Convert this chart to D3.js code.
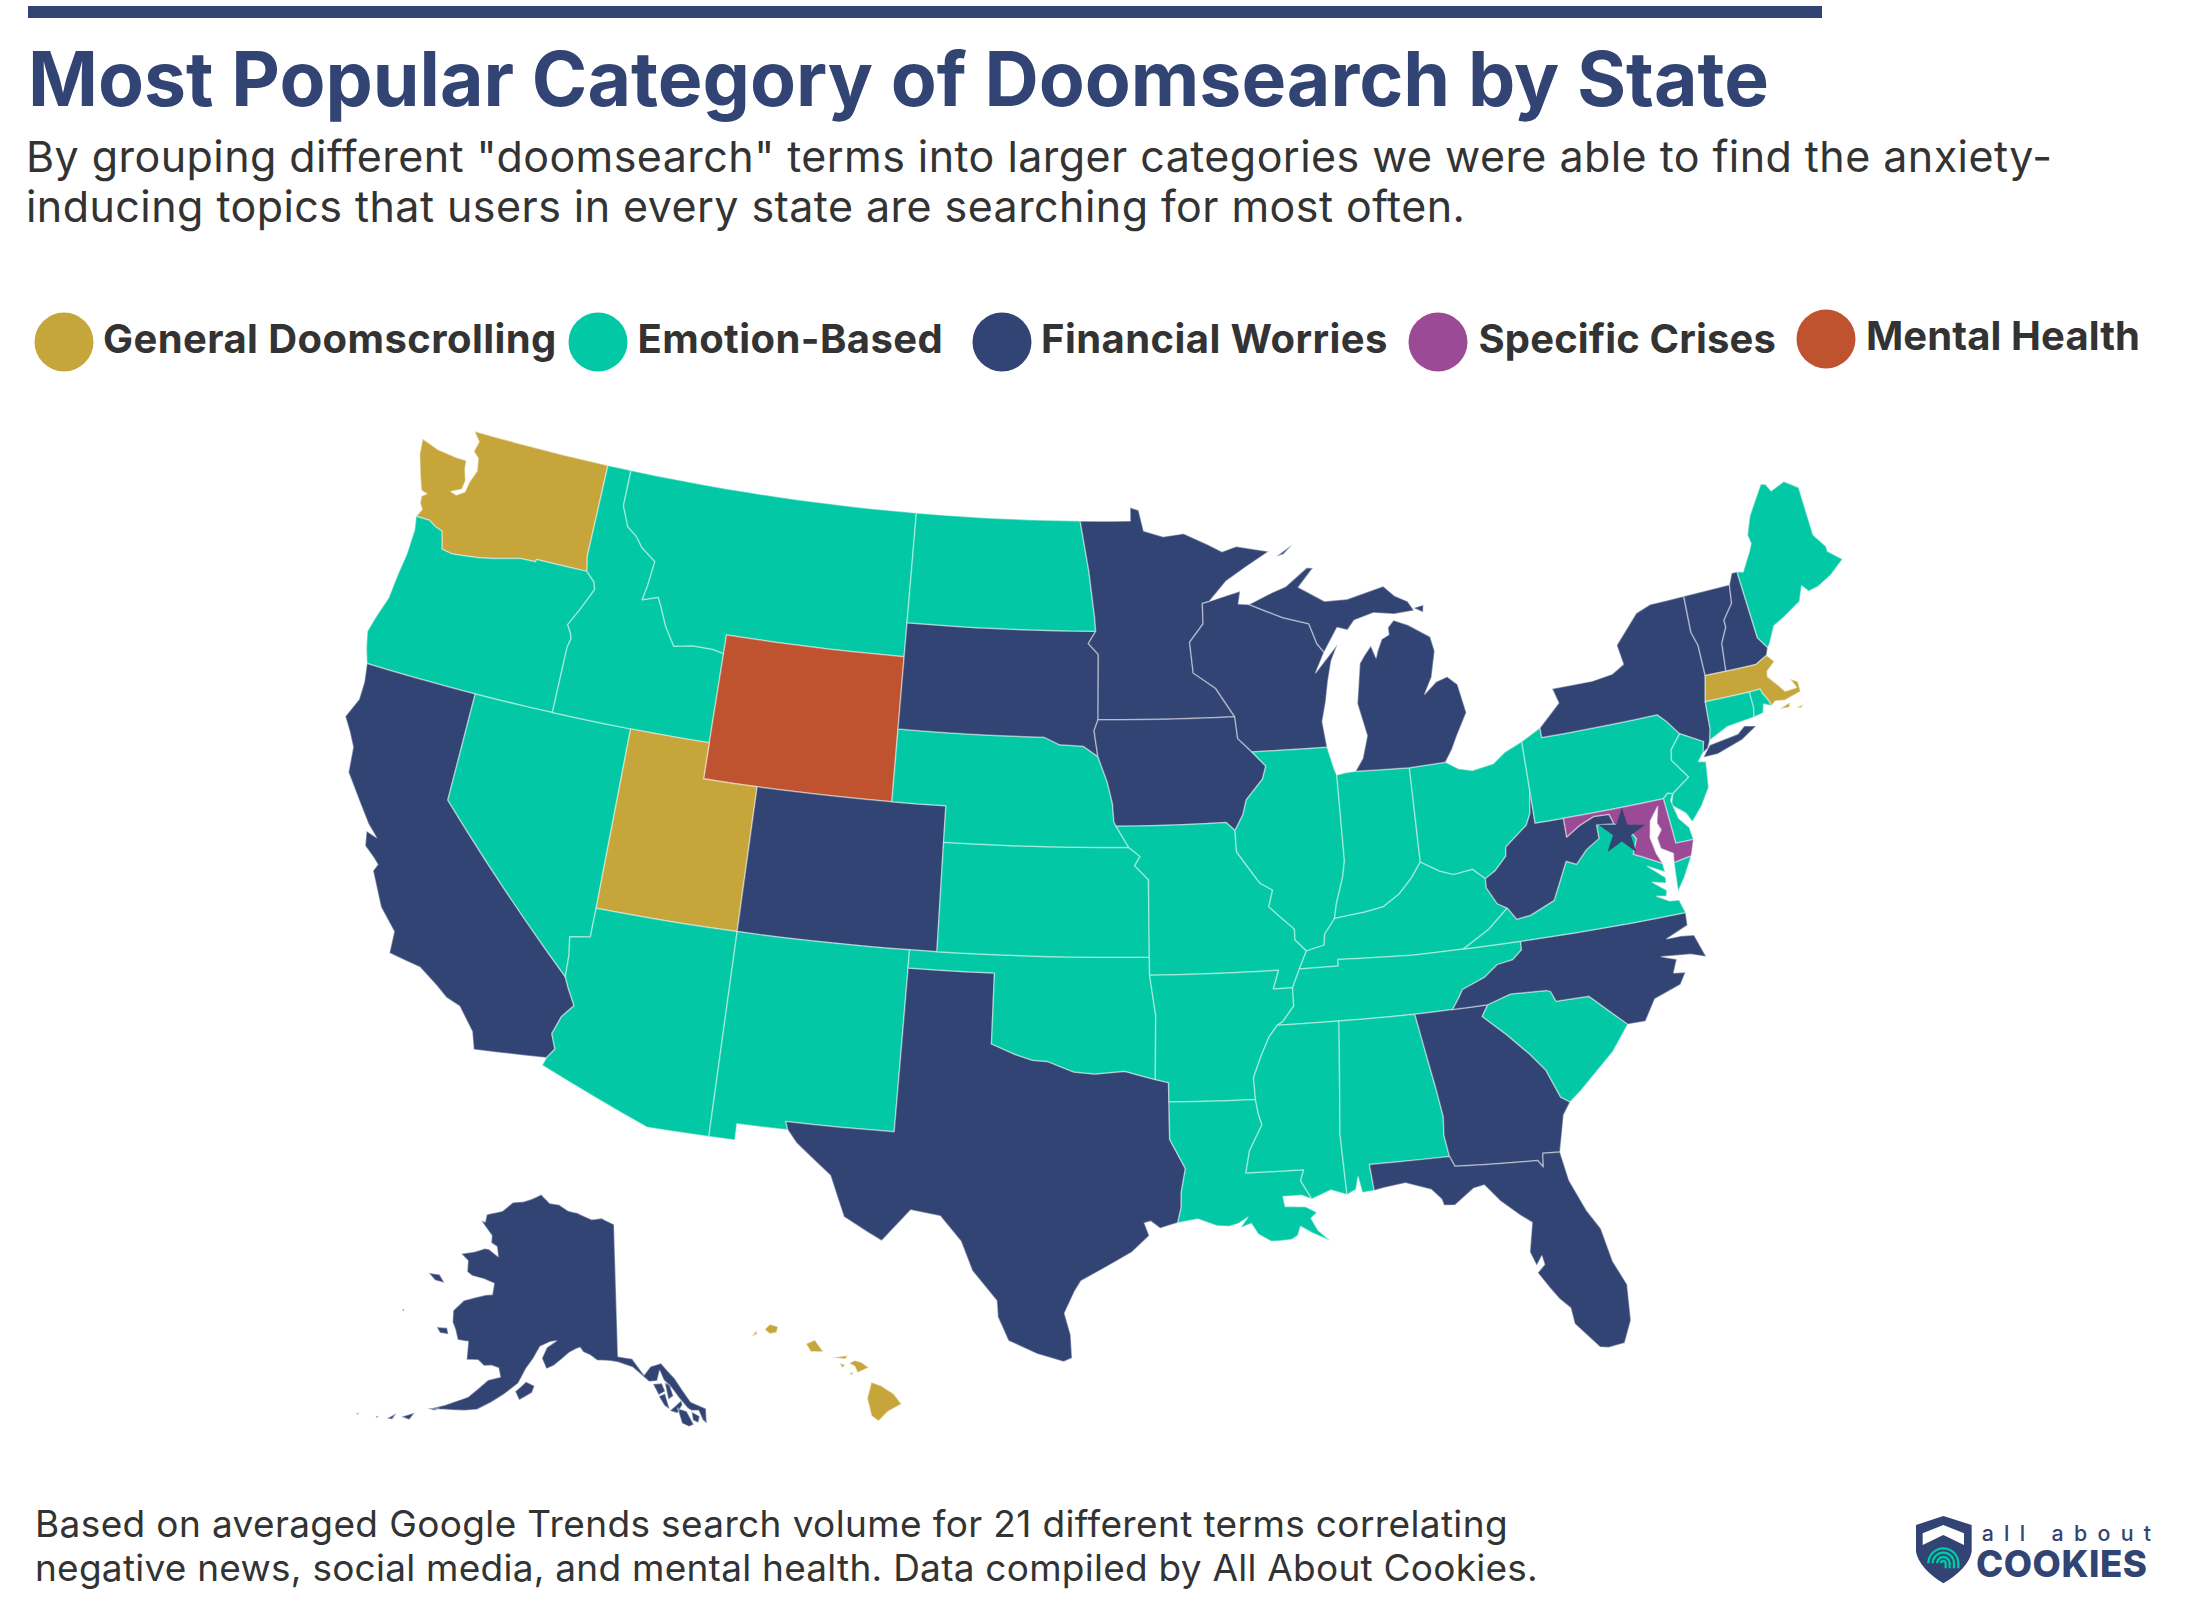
<!DOCTYPE html>
<html>
<head>
<meta charset="utf-8">
<script src="https://cdn.jsdelivr.net/npm/d3@7"></script>
<style>
  html, body { margin: 0; padding: 0; background: #fff; }
  svg { display: block; }
  text { font-family: Inter, "Noto Sans", sans-serif; }
</style>
</head>
<body>
<svg id="chart" width="2187" height="1609"></svg>
<script>
// legend + text
var categories = ["General Doomscrolling", "Emotion-Based", "Financial Worries", "Specific Crises", "Mental Health"];
var categoryColors = ["#c6a63b", "#02c8a5", "#324473", "#9b4b96", "#bf5330"];
var titleText = "Most Popular Category of Doomsearch by State";
var subtitleLines = ['By grouping different "doomsearch" terms into larger categories we were able to find the anxiety-',
  "inducing topics that users in every state are searching for most often."];
var footerLines = ["Based on averaged Google Trends search volume for 21 different terms correlating",
  "negative news, social media, and mental health. Data compiled by All About Cookies."];

// which category each state falls in
var generalStates = ["WA", "UT", "MA", "HI"];
var emotionStates = ["OR", "ID", "MT", "ND", "NV", "AZ", "NM", "NE", "KS", "OK", "MO", "AR", "LA", "MS", "AL", "TN", "KY",
  "IL", "IN", "OH", "PA", "NJ", "DE", "CT", "RI", "ME", "SC", "VA"];
var financialStates = ["CA", "SD", "MN", "WI", "MI", "IA", "CO", "TX", "GA", "FL", "NC", "WV", "NY", "VT", "NH", "AK"];
var crisesStates = ["MD"];
var mentalStates = ["WY"];
var dcLocation = [-77.5, 39.05]; // DC is drawn as a star, financial worries

// state borders as lon,lat lines, shared between neighbours
var arcs = {
  WA_N: "-117.03,49 -122.76,49 -122.45,48.75 -122.55,48.45 -122.3,48.3 -122.2,47.95 -122.38,47.6 -122.45,47.3 -122.75,47.15 -123,47.2 -122.6,47.35 -122.55,47.6 -122.7,47.9 -122.75,48.15 -123.15,48.15 -124,48.22 -124.72,48.38 -124.65,47.95 -124.35,47.35 -124.15,47 -123.9,46.95 -124.08,46.85 -124.05,46.65 -123.9,46.5 -124.05,46.27",
  WA_OR: "-124.05,46.27 -123.5,46.27 -123.2,46.15 -122.9,46.08 -122.8,45.85 -122.7,45.6 -122.25,45.55 -121.2,45.65 -120.65,45.73 -119.6,45.92 -119,45.93 -118.98,46 -116.92,46",
  WA_ID: "-117.03,49 -117.04,46.42 -116.92,46",
  OR_ID: "-116.92,46 -116.55,45.75 -116.47,45.55 -116.85,44.95 -117.2,44.45 -117.03,44.25 -116.95,44.1 -117.03,43.83 -117.03,42",
  OR_NV: "-117.03,42 -120,42",
  OR_CA: "-120,42 -124.21,42",
  OR_COAST: "-124.05,46.27 -123.95,45.9 -123.97,45.2 -124.07,44.6 -124.15,43.9 -124.4,43.3 -124.55,42.85 -124.4,42.4 -124.21,42",
  CA_COAST: "-124.21,42 -124.1,41.5 -124.1,41 -124.4,40.44 -124.1,40.1 -123.8,39.7 -123.7,39 -123,38.3 -122.5,37.8 -122.1,37.5 -122.5,37.6 -122.4,37.2 -122,36.95 -121.8,36.8 -121.9,36.6 -121.3,35.7 -120.65,35.15 -120.62,34.55 -119.5,34.38 -118.8,34 -118.4,33.75 -117.9,33.6 -117.3,33 -117.12,32.53",
  CA_MEX: "-117.12,32.53 -114.72,32.72",
  CA_AZ: "-114.72,32.72 -114.5,33 -114.7,33.4 -114.5,33.9 -114.15,34.27 -114.45,34.7 -114.63,35",
  CA_NV: "-114.63,35 -120,39 -120,42",
  NV_ID: "-117.03,42 -114.04,42",
  NV_UT: "-114.04,42 -114.04,37",
  NV_AZ: "-114.04,37 -114.05,36.2 -114.75,36.1 -114.65,35.6 -114.63,35",
  AZ_UT: "-114.04,37 -109.05,37",
  AZ_NM: "-109.05,37 -109.05,31.33",
  AZ_MEX: "-109.05,31.33 -111.07,31.33 -114.81,32.5 -114.72,32.72",
  NM_CO: "-109.05,37 -103,37",
  NM_OK: "-103,37 -103,36.5",
  NM_TX: "-103,36.5 -103.06,32 -106.62,32 -106.53,31.78",
  NM_MEX: "-106.53,31.78 -108.2,31.78 -108.2,31.33 -109.05,31.33",
  TX_MEX: "-106.53,31.78 -106.2,31.45 -105,30.65 -104.7,30.05 -104.45,29.55 -103.7,29.2 -103.2,28.98 -102.85,29.35 -102.35,29.88 -101.4,29.77 -100.7,29.1 -100.3,28.3 -99.5,27.5 -99.45,27.05 -99.1,26.4 -98.2,26.05 -97.4,25.85",
  TX_COAST: "-97.4,25.85 -97.15,25.96 -97.2,26.6 -97.4,27.2 -97.1,27.8 -96.9,28.1 -96.4,28.35 -95.9,28.6 -95.3,28.9 -94.75,29.35 -94.9,29.7 -94.7,29.75 -94.4,29.55 -93.84,29.69",
  TX_OK: "-103,36.5 -100,36.5 -100,34.56 -99.2,34.3 -98.6,34.15 -98.1,34.13 -97.2,33.85 -96.5,33.8 -95.5,33.88 -94.48,33.64",
  TX_AR: "-94.48,33.64 -94.04,33.55 -94.04,33.02",
  TX_LA: "-94.04,33.02 -94.04,31.99 -93.55,31.18 -93.7,30.55 -93.72,30.1 -93.84,29.69",
  LA_COAST: "-93.84,29.69 -93.2,29.78 -92.6,29.58 -92.2,29.55 -91.9,29.62 -91.6,29.78 -91.85,29.5 -91.5,29.6 -91.3,29.3 -90.9,29.08 -90.6,29.08 -90.25,29.1 -90.05,29.2 -89.95,29.45 -89.6,29.25 -89.05,29 -89.4,29.3 -89.6,29.65 -89.4,29.8 -89.75,29.98 -90.4,30.02 -90.45,30.3 -89.85,30.3 -89.53,30.18",
  LA_MS: "-89.53,30.18 -89.85,30.7 -89.73,31 -91.6,31 -91.45,31.6 -91,32.3 -91.1,32.6 -91.17,33",
  LA_AR: "-91.17,33 -94.04,33.02",
  MS_COAST: "-89.53,30.18 -88.9,30.39 -88.4,30.23",
  MS_AL: "-88.4,30.23 -88.47,31.9 -88.2,35",
  MS_TN: "-88.2,35 -90.3,35",
  MS_AR: "-90.3,35 -90.6,34.7 -90.9,34.2 -91.2,33.6 -91.17,33",
  AL_COAST: "-88.4,30.23 -88.1,30.35 -88,30.7 -87.9,30.25 -87.52,30.28",
  AL_FL: "-87.52,30.28 -87.6,31 -85,31",
  AL_GA: "-85,31 -85.1,31.6 -85.05,32.1 -85.18,32.87 -85.61,34.98",
  AL_TN: "-85.61,34.98 -88.2,35",
  FL_GA: "-85,31 -84.86,30.71 -82.2,30.57 -82.05,30.37 -82,30.75 -81.45,30.71",
  FL_COAST: "-81.45,30.71 -81.3,29.9 -80.9,29 -80.55,28.45 -80.35,27.5 -80.03,26.8 -80.1,25.8 -80.4,25.2 -80.9,25.15 -81.15,25.2 -81.8,25.95 -81.85,26.4 -82.15,26.7 -82.4,27.05 -82.7,27.5 -82.45,27.7 -82.5,27.95 -82.7,27.7 -82.85,28.1 -82.65,28.9 -83,29.15 -83.55,29.6 -84,30.1 -84.35,30.05 -85,29.65 -85.35,29.68 -85.4,29.85 -85.7,30.15 -86.5,30.4 -87.2,30.33 -87.52,30.28",
  GA_COAST: "-81.45,30.71 -81.3,31.2 -81.15,31.7 -80.87,32.03",
  GA_SC: "-80.87,32.03 -81.15,32.2 -81.5,33 -81.95,33.5 -82.6,34.1 -83.35,34.7 -83.11,35",
  GA_NC: "-83.11,35 -84.32,34.99",
  GA_TN: "-84.32,34.99 -85.61,34.98",
  SC_COAST: "-80.87,32.03 -80.45,32.3 -79.9,32.7 -79.2,33.2 -78.55,33.86",
  SC_NC: "-78.55,33.86 -79.67,34.8 -80.8,34.82 -80.93,35.1 -81.05,35.15 -82.3,35.2 -83.11,35",
  NC_COAST: "-78.55,33.86 -77.95,33.85 -77.5,34.4 -76.55,34.65 -76.3,34.95 -76.7,35 -76.5,35.35 -77,35.5 -76,35.4 -75.5,35.25 -75.75,35.9 -76.2,35.95 -76.7,35.95 -75.9,36.2 -75.87,36.55",
  NC_VA: "-75.87,36.55 -81.68,36.59",
  NC_TN: "-81.68,36.59 -81.7,36.35 -82.05,36.12 -82.6,36.05 -83.1,35.75 -83.9,35.5 -84.05,35.3 -84.32,34.99",
  TN_VA: "-81.68,36.59 -83.68,36.6",
  TN_KY: "-83.68,36.6 -85.5,36.6 -88.06,36.68 -88.07,36.5 -89.42,36.5",
  TN_MO: "-89.42,36.5 -89.7,36",
  TN_AR: "-89.7,36 -89.7,35.5 -90.1,35.1 -90.3,35",
  AR_MO: "-89.7,36 -90.37,36 -90.15,36.5 -94.62,36.5",
  AR_OK: "-94.62,36.5 -94.43,35.4 -94.48,33.64",
  OK_CO: "-103,37 -102.04,37",
  OK_KS: "-102.04,37 -94.62,37",
  OK_MO: "-94.62,37 -94.62,36.5",
  KS_CO: "-102.05,40 -102.04,37",
  KS_NE: "-102.05,40 -95.31,40",
  KS_MO: "-95.31,40 -94.9,39.75 -95.1,39.5 -94.61,39.11 -94.62,37",
  NE_CO: "-104.05,41 -102.05,41 -102.05,40",
  NE_WY: "-104.05,43 -104.05,41",
  NE_SD: "-104.05,43 -98.5,43 -97.9,42.8 -97,42.77 -96.45,42.49",
  NE_IA: "-96.45,42.49 -96.1,41.8 -95.9,41.2 -95.85,40.7 -95.77,40.58",
  NE_MO: "-95.77,40.58 -95.31,40",
  IA_MO: "-95.77,40.58 -91.73,40.61 -91.42,40.38",
  IA_IL: "-91.42,40.38 -91.1,40.8 -90.95,41.2 -90.3,41.75 -90.15,42.1 -90.64,42.51",
  IA_WI: "-90.64,42.51 -91.15,42.9 -91.22,43.5",
  IA_MN: "-91.22,43.5 -96.45,43.5",
  IA_SD: "-96.45,43.5 -96.6,43.2 -96.45,42.49",
  SD_WY: "-104.05,45 -104.05,43",
  SD_MT: "-104.05,45.94 -104.05,45",
  SD_ND: "-104.05,45.94 -96.56,45.94",
  SD_MN: "-96.56,45.94 -96.85,45.6 -96.45,45.3 -96.45,43.5",
  ND_MT: "-104.05,49 -104.05,45.94",
  ND_MN: "-97.23,49 -96.85,47.6 -96.6,46.3 -96.56,45.94",
  ND_CAN: "-104.05,49 -97.23,49",
  MT_CAN: "-116.05,49 -104.05,49",
  MT_ID: "-116.05,49 -116.05,48 -115.7,47.45 -115.3,47.25 -114.95,46.95 -114.35,46.65 -114.45,45.95 -114.55,45.55 -113.95,45.7 -113.8,45.5 -113.45,44.95 -113,44.45 -112.3,44.55 -111.5,44.55 -111.05,44.48",
  MT_WY: "-111.05,44.48 -111.05,45 -104.05,45",
  ID_WY: "-111.05,44.48 -111.05,42",
  ID_UT: "-114.04,42 -111.05,42",
  ID_CAN: "-117.03,49 -116.05,49",
  WY_UT: "-111.05,42 -111.05,41 -109.05,41",
  WY_CO: "-109.05,41 -104.05,41",
  UT_CO: "-109.05,41 -109.05,37",
  MN_CAN: "-97.23,49 -95.15,49 -95.15,49.38 -94.8,49.3 -94.6,48.72 -93.8,48.55 -92.95,48.62 -92,48.3 -91.4,48.07 -90.8,48.2 -89.5,48",
  MN_SUP: "-89.5,48 -90.5,47.6 -91.3,47.25 -92.01,46.71",
  MN_WI: "-92.01,46.71 -92.29,46.66 -92.29,46.1 -92.85,45.6 -92.75,44.75 -91.9,44.3 -91.22,43.5",
  WI_SUP: "-92.01,46.71 -91.2,46.87 -90.75,46.95 -90.85,46.6 -90.42,46.57",
  WI_MI: "-90.42,46.57 -89.1,46.14 -88.1,45.92 -87.85,45.35 -87.6,45.1",
  WI_LAKE: "-87.6,45.1 -88,44.55 -87.05,45.28 -87.35,44.85 -87.55,44.3 -87.7,43.75 -87.9,43.2 -87.8,42.49",
  WI_IL: "-90.64,42.51 -87.8,42.49",
  IL_LAKE: "-87.8,42.49 -87.6,41.85 -87.53,41.71",
  IL_IN: "-87.53,41.71 -87.53,39.35 -87.65,38.9 -87.95,38.2 -88.06,37.8",
  IL_KY: "-88.06,37.8 -88.45,37.4 -88.5,37.1 -89.13,36.98",
  IL_MO: "-89.13,36.98 -89.5,37.3 -89.5,37.6 -89.9,37.9 -90.35,38.25 -90.18,38.7 -90.6,38.9 -90.7,39 -91.4,39.8 -91.42,40.38",
  MO_KY: "-89.13,36.98 -89.42,36.5",
  IN_LAKE: "-87.53,41.71 -87.2,41.75 -86.82,41.76",
  IN_MI: "-86.82,41.76 -84.81,41.7",
  IN_OH: "-84.81,41.7 -84.82,39.1",
  IN_KY: "-84.82,39.1 -85.2,38.7 -85.7,38.3 -86.3,38 -87,37.9 -87.6,37.85 -88.06,37.8",
  OH_MI: "-84.81,41.7 -83.45,41.73",
  OH_ERIE: "-83.45,41.73 -83,41.5 -82.5,41.4 -81.7,41.5 -81.2,41.77 -80.52,41.98",
  OH_PA: "-80.52,41.98 -80.52,40.64",
  OH_WV: "-80.52,40.64 -80.65,40 -80.85,39.7 -81.7,39.2 -81.75,38.95 -82.2,38.6 -82.59,38.42",
  OH_KY: "-82.59,38.42 -83,38.72 -83.7,38.65 -84.2,38.8 -84.82,39.1",
  KY_WV: "-82.59,38.42 -82.6,38.17 -82.3,37.7 -81.97,37.54",
  KY_VA: "-81.97,37.54 -82.7,37.05 -83.68,36.6",
  MI_LOWER: "-86.82,41.76 -86.5,42.1 -86.25,42.7 -86.5,43.6 -86.25,44.7 -86.05,44.9 -85.75,45.15 -85.6,44.8 -85.5,45 -85.3,45.3 -85,45.4 -85,45.6 -84.75,45.78 -84.2,45.6 -83.4,45.2 -83.3,44.8 -83.55,44.1 -83.9,43.65 -83.4,43.95 -82.95,44.05 -82.6,43.8 -82.42,43 -82.9,42.4 -83.15,42.05 -83.45,41.73",
  MI_UPPER: "-90.42,46.57 -89.5,46.85 -88.9,47 -88,47.47 -87.75,47.45 -88.4,46.95 -87.4,46.5 -86.5,46.5 -85,46.75 -84.6,46.45 -84.1,46.25 -83.9,45.98 -84.7,45.95 -85.5,46.05 -86.3,45.9 -86.6,45.65 -87,45.75 -87.6,45.1",
  PA_ERIE: "-80.52,41.98 -79.76,42.27",
  PA_NY: "-79.76,42.27 -79.76,42 -75.35,42 -75.05,41.75 -74.69,41.36",
  PA_NJ: "-74.69,41.36 -75.13,40.98 -75.2,40.7 -74.72,40.15 -75.42,39.8",
  PA_DE: "-75.42,39.8 -75.6,39.84 -75.79,39.72",
  PA_MD: "-75.79,39.72 -79.48,39.72",
  PA_WV: "-79.48,39.72 -80.52,39.72 -80.52,40.64",
  NJ_NY: "-74.69,41.36 -73.9,41 -74.02,40.7",
  NJ_COAST: "-74.02,40.7 -74.25,40.5 -73.98,40.45 -74.1,39.75 -74.5,39.3 -74.95,38.93 -75.1,39.2 -75.55,39.5 -75.42,39.8",
  NY_N: "-79.76,42.27 -78.9,42.85 -79.05,43.27 -77.5,43.27 -76.7,43.35 -76.2,43.55 -76.3,44.1 -75.3,44.85 -74.7,45 -73.34,45.01",
  NY_VT: "-73.34,45.01 -73.4,44 -73.25,43.6 -73.26,42.75",
  NY_MA: "-73.26,42.75 -73.49,42.05",
  NY_CT: "-73.49,42.05 -73.55,41.3 -73.66,41",
  NY_SOUND: "-73.66,41 -73.8,40.8 -74.02,40.7",
  VT_CAN: "-73.34,45.01 -71.5,45.01",
  VT_NH: "-71.5,45.01 -71.6,44.5 -72.05,44.1 -72.05,43.9 -72.35,43.5 -72.46,42.73",
  VT_MA: "-72.46,42.73 -73.26,42.75",
  NH_CAN: "-71.5,45.01 -71.3,45.3 -71.08,45.3",
  NH_ME: "-71.08,45.3 -70.98,43.4 -70.7,43.07",
  NH_COAST: "-70.7,43.07 -70.82,42.87",
  NH_MA: "-70.82,42.87 -71.3,42.7 -72.46,42.73",
  ME_N: "-71.08,45.3 -70.85,45.25 -70.4,45.75 -70.25,45.95 -70.3,46.2 -70,46.7 -69.23,47.46 -69.05,47.42 -68.9,47.2 -68.3,47.35 -67.8,47.07 -67.8,45.7 -67.45,45.3 -67.45,45.15 -66.98,44.82 -67.6,44.5 -68.2,44.3 -68.6,44.25 -68.8,44.45 -69.05,44.05 -69.8,43.75 -70.25,43.6 -70.6,43.15 -70.7,43.07",
  MA_COAST: "-70.82,42.87 -70.6,42.65 -70.95,42.45 -71,42.3 -70.7,42 -70.5,41.78 -70.05,41.8 -70.2,42.07 -69.95,41.95 -69.95,41.67 -70.6,41.55 -70.95,41.6 -71.13,41.5",
  MA_RI: "-71.13,41.5 -71.2,41.68 -71.35,41.9 -71.38,42.02 -71.8,42.02",
  MA_CT: "-71.8,42.02 -73.49,42.05",
  RI_CT: "-71.8,42.02 -71.79,41.6 -71.86,41.32",
  RI_COAST: "-71.86,41.32 -71.5,41.37 -71.4,41.6 -71.13,41.5",
  CT_COAST: "-71.86,41.32 -72.9,41.25 -73.66,41",
  DE_MD: "-75.79,39.72 -75.69,38.46 -75.05,38.45",
  DE_COAST: "-75.05,38.45 -75.1,38.8 -75.4,39.1 -75.55,39.63 -75.42,39.8",
  MD_WV: "-79.48,39.72 -79.48,39.2 -78.95,39.45 -78.4,39.62 -77.83,39.6 -77.72,39.32",
  POTOMAC: "-77.72,39.32 -77.5,39.1 -77.12,38.93 -77.03,38.8 -77.25,38.4 -76.95,38.28 -76.3,38",
  MD_BAY: "-76.3,38 -76.45,38.3 -76.55,38.75 -76.42,39.2 -76.05,39.55 -76.2,39.1 -76.1,38.9 -76.3,38.7 -76.25,38.4 -75.85,38.2 -75.9,37.95",
  MD_VA_E: "-75.9,37.95 -75.62,37.99 -75.25,38.03",
  MD_COAST: "-75.25,38.03 -75.05,38.45",
  VA_WV: "-77.72,39.32 -78.35,39.38 -78.35,39 -78.87,38.76 -79.3,38.42 -79.65,38.55 -80.3,37.55 -81.2,37.25 -81.7,37.2 -81.97,37.54",
  VA_COAST: "-75.87,36.55 -76,36.92 -76.33,36.95 -76.75,37.15 -76.4,37.1 -76.35,37.25 -76.8,37.55 -76.32,37.45 -76.3,37.6 -76.85,38 -76.28,37.75 -76.3,38"
};

// every state is one or more closed rings, as a chain of arcs ("-" means walk the arc backwards, "=" is a loose point)
var stateRings = {
  WA: ["WA_N WA_OR -WA_ID"],
  OR: ["-WA_OR OR_COAST -OR_CA -OR_NV -OR_ID"],
  CA: ["CA_COAST CA_MEX CA_AZ CA_NV OR_CA"],
  NV: ["OR_NV -CA_NV -NV_AZ -NV_UT -NV_ID"],
  ID: ["ID_CAN MT_ID ID_WY -ID_UT -NV_ID -OR_ID -WA_ID"],
  MT: ["MT_CAN ND_MT SD_MT -MT_WY -MT_ID"],
  WY: ["MT_WY SD_WY NE_WY -WY_CO -WY_UT -ID_WY"],
  UT: ["ID_UT WY_UT UT_CO -AZ_UT -NV_UT"],
  AZ: ["AZ_UT AZ_NM AZ_MEX CA_AZ -NV_AZ"],
  CO: ["WY_CO NE_CO KS_CO -OK_CO -NM_CO -UT_CO"],
  NM: ["NM_CO NM_OK NM_TX NM_MEX -AZ_NM"],
  TX: ["TX_OK TX_AR TX_LA -TX_COAST -TX_MEX -NM_TX"],
  OK: ["OK_CO OK_KS OK_MO AR_OK -TX_OK -NM_OK"],
  KS: ["KS_NE KS_MO -OK_KS -KS_CO"],
  NE: ["NE_SD NE_IA NE_MO -KS_NE -NE_CO -NE_WY"],
  SD: ["SD_ND SD_MN IA_SD -NE_SD -SD_WY -SD_MT"],
  ND: ["ND_CAN ND_MN -SD_ND -ND_MT"],
  MN: ["MN_CAN MN_SUP MN_WI IA_MN -SD_MN -ND_MN"],
  IA: ["-IA_MN -IA_WI -IA_IL -IA_MO -NE_IA -IA_SD"],
  MO: ["IA_MO -IL_MO MO_KY TN_MO AR_MO -OK_MO -KS_MO -NE_MO"],
  AR: ["-AR_MO TN_AR MS_AR LA_AR -TX_AR -AR_OK"],
  LA: ["-LA_AR -LA_MS -LA_COAST -TX_LA"],
  WI: ["-MN_WI WI_SUP WI_MI WI_LAKE -WI_IL IA_WI"],
  IL: ["WI_IL IL_LAKE IL_IN IL_KY IL_MO IA_IL"],
  IN: ["IN_LAKE IN_MI IN_OH IN_KY -IL_IN"],
  OH: ["OH_MI OH_ERIE OH_PA OH_WV OH_KY -IN_OH"],
  KY: ["-OH_KY KY_WV KY_VA TN_KY -MO_KY -IL_KY -IN_KY"],
  TN: ["-TN_KY -TN_VA NC_TN GA_TN AL_TN MS_TN -TN_AR -TN_MO"],
  MS: ["MS_TN MS_AR -LA_MS MS_COAST MS_AL"],
  AL: ["-MS_AL AL_COAST AL_FL AL_GA AL_TN"],
  GA: ["GA_NC GA_TN -AL_GA FL_GA GA_COAST GA_SC"],
  FL: ["-FL_GA -AL_FL -FL_COAST"],
  SC: ["-GA_SC SC_COAST SC_NC"],
  NC: ["-SC_NC NC_COAST NC_VA NC_TN -GA_NC"],
  VA: ["VA_WV KY_VA -TN_VA -NC_VA VA_COAST -POTOMAC", "-MD_VA_E =-75.9,37.95 =-75.97,37.15 =-75.65,37.5 =-75.25,38.03"],
  WV: ["OH_WV KY_WV -VA_WV -MD_WV PA_WV"],
  PA: ["PA_ERIE PA_NY PA_NJ PA_DE PA_MD PA_WV -OH_PA"],
  NY: ["NY_N NY_VT NY_MA NY_CT NY_SOUND -NJ_NY -PA_NY",
    "=-74.02,40.6 =-73.7,40.87 =-72.6,40.98 =-72.3,41.15 =-71.87,41.07 =-72.5,40.8 =-73.5,40.58 =-74.02,40.58"],
  NJ: ["-PA_NJ NJ_NY NJ_COAST"],
  DE: ["DE_MD DE_COAST PA_DE"],
  MD: ["MD_WV POTOMAC MD_BAY MD_VA_E MD_COAST -DE_MD PA_MD"],
  VT: ["VT_CAN VT_NH VT_MA -NY_VT"],
  NH: ["NH_CAN NH_ME NH_COAST NH_MA -VT_NH"],
  ME: ["ME_N -NH_ME"],
  MA: ["-NH_MA MA_COAST MA_RI MA_CT -NY_MA -VT_MA", "=-70.85,41.36 =-70.45,41.45 =-70.5,41.33", "=-70.25,41.28 =-69.97,41.3 =-70.1,41.23"],
  CT: ["-MA_CT RI_CT CT_COAST -NY_CT"],
  RI: ["MA_RI RI_CT RI_COAST"],
  MI: ["MI_LOWER -OH_MI -IN_MI", "MI_UPPER -WI_MI", "=-89.2,47.85 =-88.5,48.15 =-88.9,47.9", "=-83.9,46.05 =-83.5,46.1 =-83.55,45.9"]
};

// Alaska and Hawaii are plain lon,lat rings, drawn in their own insets
var alaskaRings = [
  "-141,69.65 -143.5,70.1 -145.5,70 -148.5,70.4 -150.5,70.5 -152.5,70.85 -154.5,70.85 -156.6,71.35 -158.5,70.85 -160,70.55 -162,70.3 -163.5,69.5 -166.2,68.9 -166,68.35 -166.8,68.35 -164,67.6 -163.7,67.1 -162.5,66.95 -161.8,66.3 -163.7,66.6 -164.5,66.55 -166,66.1 -168,65.65 -166.5,65.35 -166,64.6 -165,64.45 -163,64.5 -161.2,64.4 -161,63.6 -162,63.45 -163.5,63.05 -165,62.6 -166,61.7 -165.5,60.9 -164.8,60.5 -164,59.85 -162.5,59.95 -162,58.7 -160.5,58.9 -159.5,58.6 -158.5,58.75 -157.5,58.7 -157,58.1 -158.5,57.7 -160.5,56.2 -162,55.6 -163,55.2 -164.5,54.65 -162,55 -160.5,55.2 -159,55.5 -157.5,56.2 -156,57 -154.5,57.9 -153.8,59 -153,59.8 -152.3,60.7 -151,61.1 -150,61.25 -151.3,60.7 -151.8,59.9 -151,59.2 -150,59.5 -149,60 -148,60.5 -147,60.8 -146.5,60.9 -146,60.6 -145,60.4 -144,60.05 -142,60 -141,59.9 -140,59.7 -139,59.5 -138,59 -136.9,58.4 -135.8,58.4 -135.3,59.1 -134.9,58.4 -134,57.8 -133.2,57 -132.3,56.2 -131.9,56 -131,55.9 -130.7,55.2 -130.3,54.9 -130.05,55.95 -131.8,56.6 -133.4,58.4 -135,59.6 -136.5,59.45 -137.5,58.9 -139,60.1 -141,60.3",
  "-136.4,58.2 -135.2,58.2 -134.9,57.6 -135.8,57.4",
  "-135.8,57.3 -134.95,57.45 -134.6,56.3 -135.2,56.6",
  "-134.8,58.2 -134.2,58 -133.9,57.2 -134.6,57",
  "-134.6,56.2 -133,56.8 -132.9,56.5 -133.7,55.95",
  "-133.6,56.3 -132.5,56 -131.9,55 -132.5,54.9 -133.3,55.2",
  "-131.9,55.9 -131,55.5 -131.3,55.05 -131.9,55.3",
  "-154.7,57.3 -153.5,58.1 -152.3,57.9 -152.5,57.4 -154,56.75",
  "-171.7,63.5 -170,63.7 -168.8,63.3 -170.3,63.2",
  "-167.4,60.2 -166,60.4 -165.5,60 -166.7,59.9",
  "-172.8,60.45 -172.6,60.35 -172.9,60.3",
  "-164.9,54.6 -163.6,54.85 -164,54.6",
  "-167.5,53.4 -166.2,54 -166.5,53.4",
  "-169,52.9 -168.2,53.5 -168.4,53",
  "-170.3,52.7 -170,52.85 -170.1,52.65",
  "-172.5,52.35 -172.2,52.45 -172.3,52.3"
];
var hawaiiRings = [
  "-155.9,20.25 -155.55,20.13 -155.1,19.85 -154.82,19.5 -155.3,19.25 -155.65,18.92 -155.9,19.1 -156.05,19.7",
  "-156.7,20.9 -156.5,21 -156.25,20.93 -156,20.75 -156.4,20.58 -156.5,20.8",
  "-157.3,21.1 -156.75,21.17 -156.85,21.05",
  "-157.05,20.9 -156.85,20.85 -156.95,20.75",
  "-156.7,20.55 -156.55,20.6 -156.6,20.5",
  "-158.27,21.57 -157.95,21.7 -157.65,21.3 -158.1,21.3",
  "-159.78,22.05 -159.6,22.23 -159.3,22.15 -159.35,21.95 -159.6,21.9",
  "-160.25,21.8 -160.1,22 -160.05,21.9"
];

// ---- helpers ----
function parseLine(txt) {
  return txt.trim().split(/\s+/).map(function(p) { return p.split(",").map(Number); });
}

// walk a chain of arc names into one ring
function buildRing(chain) {
  var ring = [];
  chain.split(" ").forEach(function(tok) {
    if (tok[0] === "=") { ring.push(tok.slice(1).split(",").map(Number)); return; }
    var back = tok[0] === "-";
    var pts = parseLine(arcs[back ? tok.slice(1) : tok]);
    if (back) pts.reverse();
    ring = ring.concat(pts);
  });
  return ring;
}

// long borders follow the parallels, so add points every degree before projecting
function fineRing(ring) {
  var out = [];
  ring.forEach(function(p, i) {
    var q = ring[(i + 1) % ring.length];
    var n = Math.max(1, Math.ceil(Math.max(Math.abs(q[0] - p[0]), Math.abs(q[1] - p[1]))));
    for (var k = 0; k < n; k++) out.push([p[0] + (q[0] - p[0]) * k / n, p[1] + (q[1] - p[1]) * k / n]);
  });
  out.push(out[0]);
  // d3 wants the small side of the sphere inside
  if (d3.geoArea({type: "Polygon", coordinates: [out]}) > 2 * Math.PI) out.reverse();
  return out;
}

function toFeature(code, rings) {
  return {type: "Feature", id: code, geometry: {type: "MultiPolygon", coordinates: rings.map(function(r) { return [fineRing(r)]; })}};
}

// ---- projections ----
var conus = d3.geoAlbers().scale(2075).translate([1093, 895]);
var alaska = d3.geoConicEqualArea().rotate([143, 0]).center([0, 65]).parallels([55, 65]).scale(811).translate([604, 1290]);
var hawaii = d3.geoConicEqualArea().rotate([157, 0]).center([-3, 19.9]).parallels([8, 18]).scale(1680).translate([758, 1392]);

var color = d3.scaleOrdinal().domain(categories).range(categoryColors);
var categoryOf = {};
[generalStates, emotionStates, financialStates, crisesStates, mentalStates].forEach(function(list, i) {
  list.forEach(function(code) { categoryOf[code] = categories[i]; });
});

var svg = d3.select("#chart");

// top rule and headings
svg.append("rect").attr("x", 28).attr("y", 6).attr("width", 1794).attr("height", 12).attr("fill", "#324473");
svg.append("text").attr("x", 28).attr("y", 106).attr("font-size", 75.1).attr("font-weight", 700).attr("fill", "#324473").text(titleText);
svg.selectAll(".sub").data(subtitleLines).enter().append("text").attr("class", "sub")
  .attr("x", 26).attr("y", function(d, i) { return 172 + i * 50; })
  .attr("font-size", 43).attr("letter-spacing", 0.44).attr("fill", "#333").text(function(d) { return d; });

// legend
var legendX = [64, 598, 1002, 1438, 1826];
var legendY = [342, 342, 342, 342, 339];
var legendTextX = [39, 39.5, 39, 40.5, 40];
var legendSpacing = [0.43, 0.43, 0.43, 0.15, 0.1];
var legend = svg.selectAll(".legend").data(categories).enter().append("g").attr("class", "legend")
  .attr("transform", function(d, i) { return "translate(" + legendX[i] + "," + legendY[i] + ")"; });
legend.append("circle").attr("r", 29.5).attr("fill", function(d) { return color(d); });
legend.append("text").attr("x", function(d, i) { return legendTextX[i]; }).attr("y", 11).attr("font-size", 40)
  .attr("letter-spacing", function(d, i) { return legendSpacing[i]; })
  .attr("font-weight", 700).attr("fill", "#333").text(function(d) { return d; });

// map
var g = svg.append("g").attr("stroke", "#fff").attr("stroke-opacity", 0.4).attr("stroke-width", 1.5).attr("stroke-linejoin", "round");
var lower48 = Object.keys(stateRings).map(function(code) { return toFeature(code, stateRings[code].map(buildRing)); });
var path48 = d3.geoPath(conus);
g.selectAll(".state").data(lower48).enter().append("path").attr("class", "state")
  .attr("d", path48).attr("fill", function(d) { return color(categoryOf[d.id]); });

g.append("path").datum(toFeature("AK", alaskaRings.map(parseLine))).attr("d", d3.geoPath(alaska)).attr("fill", color(categoryOf.AK));
g.append("path").datum(toFeature("HI", hawaiiRings.map(parseLine))).attr("d", d3.geoPath(hawaii)).attr("fill", color(categoryOf.HI));

// DC star
var dc = conus(dcLocation);
svg.append("path").attr("d", d3.symbol(d3.symbolStar, 674)()).attr("transform", "translate(" + dc[0] + "," + dc[1] + ")").attr("fill", "#324473");

// footer
var footerSpacing = [0.37, 0.25];
svg.selectAll(".foot").data(footerLines).enter().append("text").attr("class", "foot")
  .attr("x", 35).attr("y", function(d, i) { return 1537 + i * 44; })
  .attr("font-size", 37).attr("letter-spacing", function(d, i) { return footerSpacing[i]; }).attr("fill", "#333").text(function(d) { return d; });

// logo
var logo = svg.append("g").attr("transform", "translate(1900,1500) scale(0.3333)");
logo.append("path").attr("d", "M48,75 L130,48 L215,75 L215,155 Q205,205 130,250 Q58,205 48,155 Z").attr("fill", "#324473");
logo.append("path").attr("d", "M68,100 L130,75 L192,100 L192,135 L130,105 L68,135 Z").attr("fill", "#fff");
[45, 32, 19, 7].forEach(function(r) {
  logo.append("path").attr("d", "M" + (130 - r) + ",190 A" + r + "," + r + " 0 0 1 " + (130 + r) + ",190 L" + (130 + r) + ",205")
    .attr("fill", "none").attr("stroke", "#02c8a5").attr("stroke-width", 7);
});
logo.append("text").attr("x", 245).attr("y", 122).attr("font-size", 64).attr("font-weight", 500).attr("letter-spacing", 31).attr("fill", "#324473").text("all about");
logo.append("text").attr("x", 228).attr("y", 230).attr("font-size", 110).attr("font-weight", 800).attr("letter-spacing", 1.5).attr("fill", "#324473").text("COOKIES");
</script>
</body>
</html>
